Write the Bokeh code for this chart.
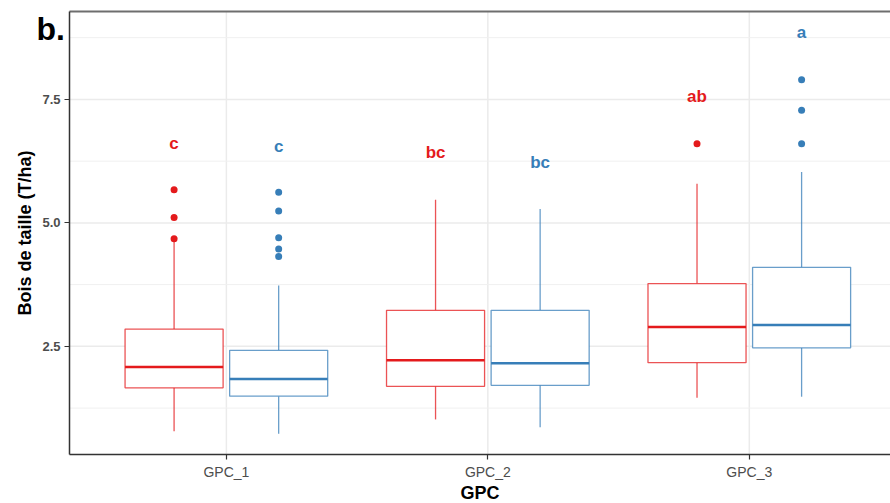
from bokeh.plotting import figure
from bokeh.models import FixedTicker, Label, ColumnDataSource, NumeralTickFormatter
from bokeh.core.properties import value
from bokeh.embed import file_html
from bokeh.resources import INLINE

# ---- data ----
groups = ["GPC_1", "GPC_2", "GPC_3"]
group_pos = [1, 2, 3]

red_lower = [0.78, 1.02, 1.46]
red_q1 = [1.66, 1.69, 2.17]
red_median = [2.08, 2.22, 2.89]
red_q3 = [2.85, 3.23, 3.77]
red_upper = [4.65, 5.47, 5.79]
red_out_group = [1, 1, 1, 3]
red_out_val = [5.67, 5.11, 4.68, 6.60]
red_letters = ["c", "bc", "ab"]
red_letter_y = [6.61, 6.42, 7.55]

blue_lower = [0.73, 0.86, 1.48]
blue_q1 = [1.49, 1.71, 2.47]
blue_median = [1.84, 2.16, 2.93]
blue_q3 = [2.42, 3.23, 4.10]
blue_upper = [3.73, 5.28, 6.03]
blue_out_group = [1, 1, 1, 1, 1, 3, 3, 3]
blue_out_val = [5.62, 5.24, 4.70, 4.47, 4.32, 7.90, 7.28, 6.60]
blue_letters = ["c", "bc", "a"]
blue_letter_y = [6.55, 6.23, 8.86]

y_ticks = [2.5, 5.0, 7.5]
y_minor = [1.25, 3.75, 6.25, 8.75]

RED = "#E41A1C"
BLUE = "#377EB8"
FONT = "Liberation Sans"
DODGE = 0.2
BOX_W = 0.375

# panel data limits and where the panel sits on the 890x503 canvas
X0, X1 = 0.4, 3.54
Y0, Y1 = 0.31, 9.28
W, H = 890, 503
PL, PT, PB, PR = 69, 11, 454, 890
sx = (PR - PL) / (X1 - X0)
sy = (PB - PT) / (Y1 - Y0)
# the frame covers the whole canvas so the panel tag can live in the margin
x_start, x_end = X0 - PL / sx, X1 + (W - PR) / sx
y_start, y_end = Y0 - (H - PB) / sy, Y1 + PT / sy

p = figure(width=W, height=H, output_backend="svg", toolbar_location=None,
           x_range=(x_start, x_end), y_range=(y_start, y_end),
           min_border_left=0, min_border_top=0, min_border_bottom=0, min_border_right=0)
p.outline_line_color = None
p.background_fill_color = "white"
p.border_fill_color = "white"
p.grid.visible = False

# axes pinned to the panel edges
p.xaxis.ticker = FixedTicker(ticks=group_pos)
p.xaxis.major_label_overrides = {g: n for g, n in zip(group_pos, groups)}
p.yaxis.ticker = FixedTicker(ticks=y_ticks)
p.yaxis.formatter = NumeralTickFormatter(format="0.0")
p.xaxis.fixed_location = Y0
p.xaxis.bounds = (X0, X1)
p.yaxis.fixed_location = X0
p.yaxis.bounds = (Y0, Y1)

for ax in (p.xaxis, p.yaxis):
    ax.axis_line_color = "#333333"
    ax.axis_line_width = 1.5
    ax.major_tick_line_color = "#333333"
    ax.major_tick_line_width = 1.2
    ax.major_tick_out = 5
    ax.major_tick_in = 0
    ax.minor_tick_line_color = None
    ax.major_label_text_font = FONT
    ax.major_label_text_font_size = "14px"
    ax.major_label_text_color = "#4D4D4D"
    ax.axis_label_text_font = FONT
    ax.axis_label_text_font_size = "18px"
    ax.axis_label_text_font_style = "bold"
    ax.axis_label_text_color = "black"

p.yaxis.major_label_text_font_style = "bold"
p.yaxis.major_label_text_font_size = "13px"
p.xaxis.axis_label = "GPC"
p.yaxis.axis_label = "Bois de taille (T/ha)"
p.xaxis.major_label_standoff = 4
p.xaxis.axis_label_standoff = 0
p.yaxis.major_label_standoff = 4
p.yaxis.axis_label_standoff = 4

# panel grid lines (limited to the panel)
p.segment(x0=group_pos, y0=[Y0] * len(group_pos), x1=group_pos, y1=[Y1] * len(group_pos),
          line_color="#EBEBEB", line_width=1.5)
p.segment(x0=[X0] * len(y_ticks), y0=y_ticks, x1=[X1] * len(y_ticks), y1=y_ticks,
          line_color="#EBEBEB", line_width=1.5)
p.segment(x0=[X0] * len(y_minor), y0=y_minor, x1=[X1] * len(y_minor), y1=y_minor,
          line_color="#F0F0F0", line_width=1)
# top border of the panel
p.segment(x0=[X0], y0=[Y1], x1=[X1], y1=[Y1], line_color="#6E6E6E", line_width=2)


def draw(offset, color, lower, q1, med, q3, upper, og, ov, letters, ly):
    xs = [g + offset for g in group_pos]
    src = ColumnDataSource(dict(x=xs, lower=lower, q1=q1, med=med, q3=q3, upper=upper,
                                l=[x - BOX_W / 2 for x in xs], r=[x + BOX_W / 2 for x in xs]))
    p.segment(x0="x", y0="q3", x1="x", y1="upper", source=src, line_color=color,
              line_alpha=0.75, line_width=1.3)
    p.segment(x0="x", y0="q1", x1="x", y1="lower", source=src, line_color=color,
              line_alpha=0.75, line_width=1.3)
    p.vbar(x="x", width=BOX_W, top="q3", bottom="q1", source=src, fill_color="white",
           line_color=color, line_alpha=0.75, line_width=1.3)
    p.segment(x0="l", y0="med", x1="r", y1="med", source=src, line_color=color, line_width=2.5)
    p.scatter([g + offset for g in og], ov, size=7, color=color, line_width=0)
    p.text([g + offset for g in group_pos], ly, text=letters, text_color=color,
           text_font=value(FONT), text_font_size="17px", text_font_style="bold",
           text_align="center", text_baseline="middle")


draw(-DODGE, RED, red_lower, red_q1, red_median, red_q3, red_upper,
     red_out_group, red_out_val, red_letters, red_letter_y)
draw(DODGE, BLUE, blue_lower, blue_q1, blue_median, blue_q3, blue_upper,
     blue_out_group, blue_out_val, blue_letters, blue_letter_y)

# panel tag "b." in the top-left margin
p.add_layout(Label(x=36, y=H - 28, x_units="screen", y_units="screen", text="b.",
                   text_font=FONT, text_font_size="32px", text_font_style="bold",
                   text_color="black", text_align="left", text_baseline="alphabetic"))

open("out.html", "w").write(file_html(p, INLINE))
